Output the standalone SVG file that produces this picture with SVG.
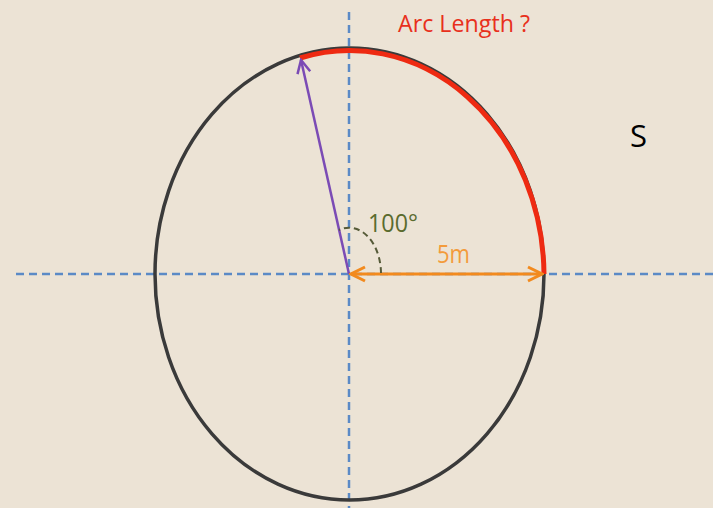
<svg xmlns="http://www.w3.org/2000/svg" width="713" height="508" viewBox="0 0 713 508">
<style>
.axis{stroke:#5b8ac6;stroke-width:2.5;stroke-dasharray:8 5;fill:none}
.lbl{font-family:"Open Sans","Liberation Sans",sans-serif}
</style>
<defs>
<marker id="chev-purple" viewBox="0 0 16 16" refX="14" refY="8" markerWidth="16" markerHeight="16" markerUnits="userSpaceOnUse" orient="auto-start-reverse"><path d="M1,1.5 L14,8 L1,14.5" fill="none" stroke="#7b4bb5" stroke-width="2.5"/></marker>
<marker id="chev-orange" viewBox="0 0 18 18" refX="16" refY="9" markerWidth="18" markerHeight="18" markerUnits="userSpaceOnUse" orient="auto-start-reverse"><path d="M2,2 L16,9 L2,16" fill="none" stroke="#f28a1e" stroke-width="3"/></marker>
</defs>
<rect width="713" height="508" fill="#ece3d5"/>
<g id="axes">
<line class="axis" x1="16" y1="274" x2="713" y2="274"/>
<line class="axis" x1="349" y1="12" x2="349" y2="508"/>
</g>
<g id="ellipse"><ellipse cx="349.5" cy="274" rx="194.5" ry="226" fill="none" stroke="#3a3a3a" stroke-width="3.5"/></g>
<g id="arc"><path d="M300,58 A194.5,226 0 0 1 544,274" fill="none" stroke="#ee2a12" stroke-width="5"/></g>
<g id="connectors">
<line x1="349" y1="274" x2="301" y2="60" stroke="#7b4bb5" stroke-width="2.5" marker-end="url(#chev-purple)"/>
<line x1="351" y1="274" x2="542" y2="274" stroke="#f28a1e" stroke-width="3" marker-start="url(#chev-orange)" marker-end="url(#chev-orange)"/>
<path d="M381,273 A32,46 0 0 0 339,230" fill="none" stroke="#555a38" stroke-width="2" stroke-dasharray="6 4"/>
</g>
<g id="labels">
<text class="lbl" x="398" y="32" font-size="24" fill="#e8301c" textLength="132" lengthAdjust="spacingAndGlyphs">Arc Length  ?</text>
<text class="lbl" x="368" y="232" font-size="25" fill="#5a6b2e" textLength="50" lengthAdjust="spacingAndGlyphs">100°</text>
<text class="lbl" x="437" y="263" font-size="25" fill="#f39b3c" textLength="33" lengthAdjust="spacingAndGlyphs">5m</text>
<text class="lbl" x="630" y="147" font-size="31" fill="#000">S</text>
</g>
</svg>
